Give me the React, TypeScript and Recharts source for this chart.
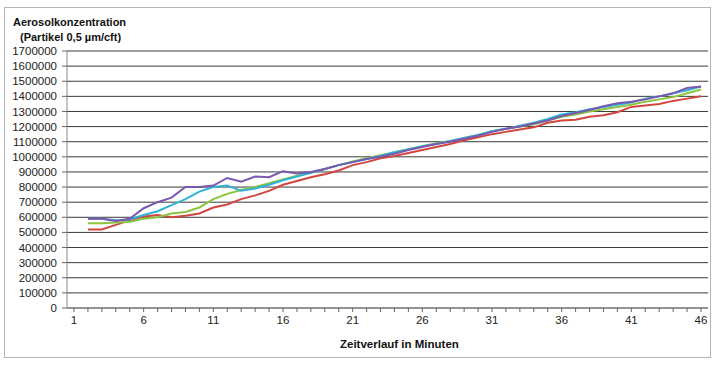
import React from "react";
import { LineChart, Line, XAxis, YAxis, CartesianGrid } from "recharts";

const minutes: number[] = Array.from({ length: 46 }, (_, i) => i + 1);

// values start at minute 2 (minute 1 empty)
const purple: number[] = [590, 590, 575, 590, 660, 700, 730, 800, 800, 810, 860, 835, 870, 865, 905, 890, 900, 920, 945, 965, 985, 1000, 1020, 1045, 1065, 1085, 1100, 1120, 1140, 1165, 1185, 1200, 1220, 1240, 1270, 1290, 1310, 1335, 1355, 1365, 1380, 1400, 1420, 1455, 1465];
const cyan: number[] = [590, 590, 580, 585, 615, 640, 680, 720, 770, 800, 810, 775, 790, 815, 845, 870, 895, 920, 945, 965, 985, 1005, 1030, 1050, 1070, 1085, 1105, 1125, 1145, 1170, 1185, 1205, 1225, 1250, 1280, 1295, 1315, 1330, 1345, 1360, 1385, 1400, 1420, 1440, 1465];
const green: number[] = [560, 560, 565, 570, 590, 600, 625, 635, 665, 720, 755, 780, 800, 825, 850, 875, 895, 920, 945, 970, 990, 1010, 1030, 1050, 1070, 1090, 1105, 1125, 1145, 1170, 1185, 1200, 1215, 1240, 1265, 1280, 1300, 1315, 1330, 1345, 1365, 1380, 1395, 1420, 1445];
const red: number[] = [520, 520, 550, 580, 605, 615, 600, 610, 625, 665, 685, 720, 745, 775, 815, 840, 865, 885, 910, 945, 965, 990, 1005, 1025, 1045, 1065, 1085, 1110, 1130, 1150, 1165, 1180, 1195, 1225, 1240, 1245, 1265, 1275, 1295, 1330, 1340, 1350, 1370, 1385, 1400];

const yTicks: number[] = Array.from({ length: 18 }, (_, i) => i * 100000);

const val = (arr: number[], i: number) => (i === 0 ? null : arr[i - 1] * 1000);

const data = minutes.map((m, i) => ({
  t: m,
  purple: val(purple, i),
  cyan: val(cyan, i),
  green: val(green, i),
  red: val(red, i),
}));

const font = "'Liberation Sans', Arial, sans-serif";

const XTick = (props: any) => {
  const { x, y, payload, index } = props;
  if (index % 5 !== 0) return <g />;
  return (
    <text x={x} y={y + 10} textAnchor="middle" fontSize={11.5} fill="#222" fontFamily={font}>
      {payload.value}
    </text>
  );
};

export default function App() {
  return (
    <div style={{ position: "absolute", left: 0, top: 0, width: 713, height: 365, background: "#fff", fontFamily: font }}>
      <div style={{ position: "absolute", left: 4, top: 7, width: 705, height: 349, border: "1px solid #b5b5b5" }} />
      <div style={{ position: "absolute", left: 13, top: 16, fontSize: 11, fontWeight: "bold", color: "#111", whiteSpace: "nowrap" }}>
        Aerosolkonzentration
      </div>
      <div style={{ position: "absolute", left: 20, top: 31, fontSize: 11, fontWeight: "bold", color: "#111", whiteSpace: "nowrap" }}>
        (Partikel 0,5 µm/cft)
      </div>
      <div style={{ position: "absolute", left: 340, top: 338, fontSize: 11.5, fontWeight: "bold", color: "#111", whiteSpace: "nowrap" }}>
        Zeitverlauf in Minuten
      </div>
      <div style={{ position: "absolute", left: 0, top: 0 }}>
        <LineChart width={713} height={365} data={data} margin={{ top: 51, right: 5, bottom: 27, left: 0 }}>
          <CartesianGrid vertical={false} stroke="#3a3a3a" strokeWidth={1} />
          <XAxis
            dataKey="t"
            height={30}
            interval={0}
            padding={{ left: 7, right: 7 }}
            tick={<XTick />}
            tickSize={4}
            axisLine={{ stroke: "#888" }}
            tickLine={{ stroke: "#666" }}
          />
          <YAxis
            width={67}
            domain={[0, 1700000]}
            ticks={yTicks}
            interval={0}
            tickSize={5}
            tickMargin={5}
            axisLine={{ stroke: "#888" }}
            tickLine={{ stroke: "#666" }}
            tick={{ fontSize: 11.5, fill: "#222", fontFamily: font }}
          />
          <Line dataKey="red" stroke="#d2463f" strokeWidth={2} dot={false} isAnimationActive={false} />
          <Line dataKey="green" stroke="#8cc43f" strokeWidth={2} dot={false} isAnimationActive={false} />
          <Line dataKey="cyan" stroke="#2fb2d6" strokeWidth={2} dot={false} isAnimationActive={false} />
          <Line dataKey="purple" stroke="#7b58b0" strokeWidth={2} dot={false} isAnimationActive={false} />
        </LineChart>
      </div>
    </div>
  );
}
